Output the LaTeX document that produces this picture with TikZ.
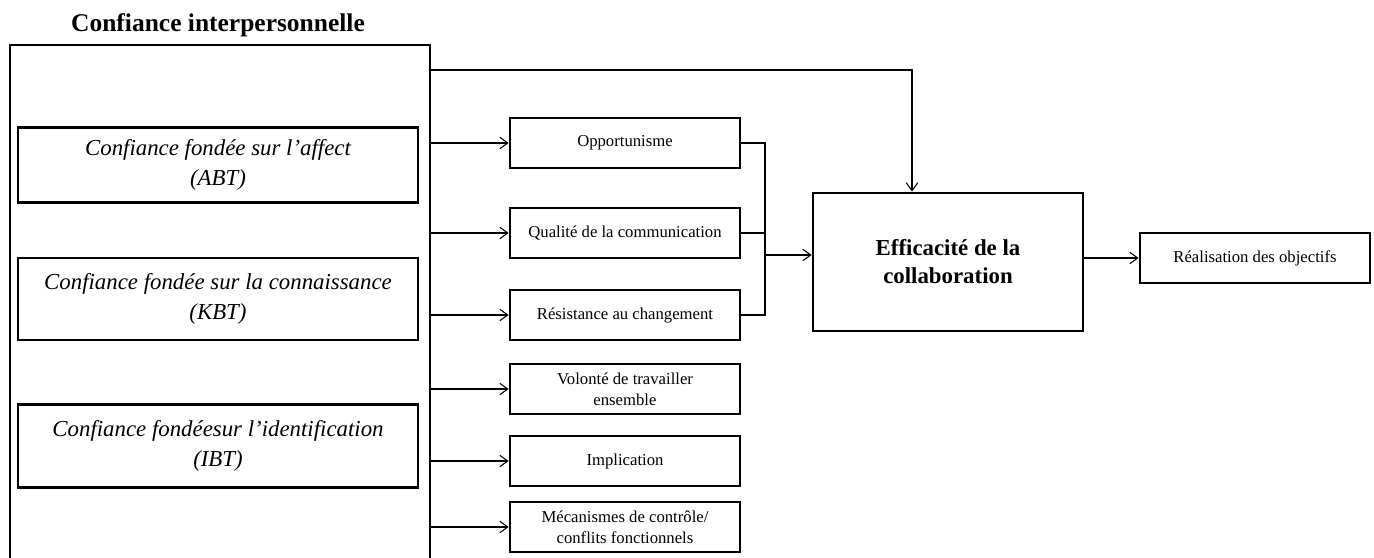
\documentclass[tikz,border=0pt]{standalone}
\usepackage{fontspec}
\setmainfont{Liberation Serif}
\usetikzlibrary{positioning}
\usetikzlibrary{arrows.meta}

\begin{document}
\begin{tikzpicture}[
    x=0.02cm, y=-0.02cm,
    outer/.style={rectangle, draw, line width=1.6pt, minimum width=8.4cm, minimum height=10.6cm},
    trust/.style={rectangle, draw, line width=1.6pt, minimum width=8cm, align=center, font=\fontsize{13}{17.5}\selectfont\itshape},
    factor/.style={rectangle, draw, line width=1.6pt, minimum width=4.6cm, minimum height=1cm, align=center, font=\fontsize{9.5}{12}\selectfont},
    result/.style={rectangle, draw, line width=1.6pt, align=center},
    link/.style={-{Straight Barb[length=4.5pt,width=6.5pt]}, line width=0.6pt},
    plain/.style={line width=0.6pt}
]
\useasboundingbox (0,0) rectangle (1374,558);

% Confiance interpersonnelle (left block)
\node[font=\fontsize{14.5}{17}\selectfont\bfseries] (title) at (218,25) {Confiance interpersonnelle};
\node[outer] (big) at (220,310) {};
\node[trust, minimum height=1.5cm] (abt) at (218,165) {Confiance fondée sur l'affect\\(ABT)};
\node[trust, minimum height=1.64cm] (kbt) at (218,299) {Confiance fondée sur la connaissance\\(KBT)};
\node[trust, minimum height=1.66cm] (ibt) at (218,446) {Confiance fondéesur l'identification\\(IBT)};

% Factors (middle column)
\node[factor] (opp) at (625,143) {Opportunisme};
\node[factor] (qual) at (625,233) {Qualité de la communication};
\node[factor] (res) at (625,315) {Résistance au changement};
\node[factor] (vol) at (625,389) {Volonté de travailler\\ensemble};
\node[factor] (impl) at (625,461) {Implication};
\node[factor] (meca) at (625,527) {Mécanismes de contrôle/\\conflits fonctionnels};

% Outcomes
\node[result, minimum width=5.4cm, minimum height=2.76cm, font=\fontsize{13}{16}\selectfont\bfseries] (eff) at (948,262) {Efficacité de la\\collaboration};
\node[result, minimum width=4.6cm, minimum height=1cm, font=\fontsize{9.5}{12}\selectfont] (real) at (1255,258) {Réalisation des objectifs};

% Arrows from the trust block
\foreach \f in {opp, qual, res, vol, impl, meca} {
   \draw[link] (\f.west -| big.east) -- (\f.west);
}

% Direct path to efficacite
\coordinate (drop) at (912,70);
\draw[link] (big.east |- drop) -- (drop) -- (drop |- eff.north);

% Bracket joining the first three factors
\coordinate (join) at (765,255);
\draw[plain] (opp.east) -- (opp.east -| join) -- (res.east -| join) -- (res.east);
\draw[plain] (qual.east) -- (qual.east -| join);
\draw[link] (join) -- (eff.west |- join);

\draw[link] (eff.east |- real.west) -- (real.west);

\end{tikzpicture}
\end{document}
